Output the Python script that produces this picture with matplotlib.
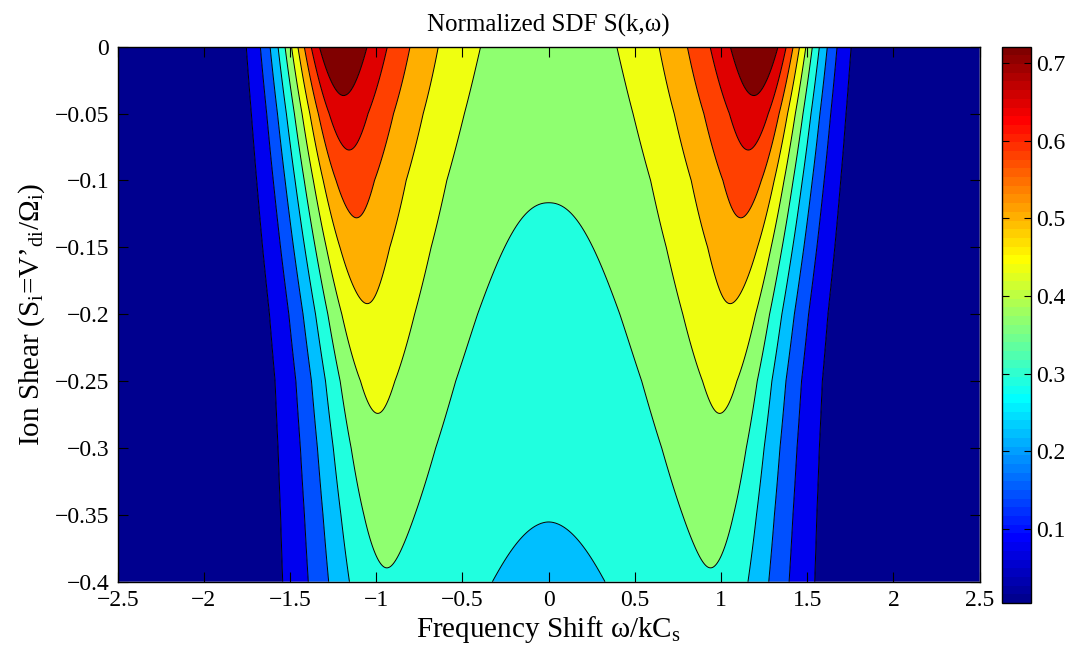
import numpy as np
import matplotlib
matplotlib.use("Agg")
import matplotlib.pyplot as plt
from matplotlib.colors import ListedColormap, Normalize
from matplotlib.cm import ScalarMappable

# ---------------- data ----------------
# anchor rows of ion shear (y axis)
shear_anchor = [0.0, -0.05, -0.10, -0.15, -0.20, -0.25, -0.30, -0.35, -0.40]
# height of the two spectral peaks at each row
peak_value = [0.797, 0.693, 0.613, 0.550, 0.498, 0.452, 0.416, 0.386, 0.357]
# |frequency shift| of the peaks at each row
peak_position = [1.22, 1.18, 1.14, 1.095, 1.045, 1.005, 0.978, 0.955, 0.935]
# value of S at zero frequency shift at each row
center_value = [0.398, 0.383, 0.368, 0.353, 0.338, 0.323, 0.308, 0.293, 0.278]
# width of the steep outer fall-off at each row
outer_width = [0.349, 0.367, 0.384, 0.402, 0.420, 0.437, 0.455, 0.472, 0.490]
# steepness exponent of the inner flank at each row
inner_power = [2.25, 2.2, 2.2, 2.15, 2.15, 2.1, 2.0, 1.9, 1.8]
# rounding of the peak tip
inner_tip = 0.07

# contour levels (colour limits are the first and last)
contour_levels = [0.005, 0.0766, 0.1482, 0.2198, 0.2914, 0.3630,
                  0.4346, 0.5062, 0.5778, 0.6494, 0.7210]

x_ticks = [-2.5, -2, -1.5, -1, -0.5, 0, 0.5, 1, 1.5, 2, 2.5]
x_ticklabels = ["\u22122.5", "\u22122", "\u22121.5", "\u22121", "\u22120.5", "0",
                "0.5", "1", "1.5", "2", "2.5"]
y_ticks = [-0.4, -0.35, -0.3, -0.25, -0.2, -0.15, -0.1, -0.05, 0]
y_ticklabels = ["\u22120.4", "\u22120.35", "\u22120.3", "\u22120.25", "\u22120.2",
                "\u22120.15", "\u22120.1", "\u22120.05", "0"]
cbar_ticks = [0.1, 0.2, 0.3, 0.4, 0.5, 0.6, 0.7]
cbar_ticklabels = ["0.1", "0.2", "0.3", "0.4", "0.5", "0.6", "0.7"]

title_text = "Normalized SDF S(k,\u03c9)"
xlabel_text = "Frequency Shift \u03c9/kC$_\\mathregular{s}$"
ylabel_text = ("Ion Shear (S$_\\mathregular{i}$=V\u2019$_\\mathregular{di}$/"
               "\u03a9$_\\mathregular{i}$)")

# ---------------- field ----------------
x = np.linspace(-2.5, 2.5, 1201)
y = np.linspace(-0.4, 0.0, 481)
X, Y = np.meshgrid(x, y)
s = -Y
s_anchor = -np.array(shear_anchor)
P = np.interp(s, s_anchor, peak_value)
x0 = np.interp(s, s_anchor, peak_position)
C = np.interp(s, s_anchor, center_value)
go = np.interp(s, s_anchor, outer_width)
pw = np.interp(s, s_anchor, inner_power)
u = np.abs(X)

tau = np.clip((x0 - u) / x0, 0, 1)
rho = (np.sqrt(tau**2 + inner_tip**2) - inner_tip) / (np.sqrt(1 + inner_tip**2) - inner_tip)
h = 1 - (1 - rho) ** pw
inner = P - (P - C) * h
outer = P * np.exp(-((u - x0) / go) ** 2)
Z = np.where(u <= x0, inner, outer)

# ---------------- MATLAB jet(64) ----------------
def matlab_jet(m=64):
    n = int(np.ceil(m / 4))
    uu = np.concatenate([np.arange(1, n + 1) / n, np.ones(n - 1), np.arange(n, 0, -1) / n])
    g = int(np.ceil(n / 2)) - (1 if m % 4 == 1 else 0) + np.arange(1, len(uu) + 1)
    r = g + n
    b = g - n
    J = np.zeros((m, 3))
    J[r[r <= m] - 1, 0] = uu[r <= m]
    J[g[g <= m] - 1, 1] = uu[g <= m]
    J[b[b >= 1] - 1, 2] = uu[b >= 1]
    return J

jet = matlab_jet(64)
cmin, cmax = contour_levels[0], contour_levels[-1]
region_colors = []
for v in contour_levels:
    idx = min(int((v - cmin) / (cmax - cmin) * 64), 63)
    region_colors.append(tuple(jet[idx]))

# ---------------- plotting ----------------
plt.rcParams["font.family"] = ["Liberation Serif", "DejaVu Serif"]
plt.rcParams["mathtext.fontset"] = "custom"
plt.rcParams["mathtext.rm"] = "Liberation Serif"
plt.rcParams["mathtext.it"] = "Liberation Serif:italic"

W, H = 1070, 650
fig = plt.figure(figsize=(W / 100, H / 100), dpi=100)
ax = fig.add_axes([117.7 / W, 1 - 581.7 / H, (979.7 - 117.7) / W, (581.7 - 46.7) / H])

bounds = [-1.0] + contour_levels[1:] + [10.0]
ax.contourf(X, Y, Z, levels=bounds, colors=region_colors, antialiased=True)
ax.contour(X, Y, Z, levels=contour_levels[1:], colors="k", linewidths=0.7)

ax.set_xlim(-2.5, 2.5)
ax.set_ylim(-0.4, 0)
ax.set_xticks(x_ticks)
ax.set_xticklabels(x_ticklabels)
ax.set_yticks(y_ticks)
ax.set_yticklabels(y_ticklabels)
ax.tick_params(direction="in", length=7, width=0.8, top=True, right=True,
               labelsize=17, pad=6, colors="k")
for sp in ax.spines.values():
    sp.set_linewidth(1.0)
ax.set_title(title_text, fontsize=18, pad=11)
ax.set_xlabel(xlabel_text, fontsize=21, labelpad=2)
ax.set_ylabel(ylabel_text, fontsize=21, labelpad=6)

cax = fig.add_axes([1001.7 / W, 1 - 603 / H, 29 / W, (603 - 46.7) / H])
sm = ScalarMappable(norm=Normalize(cmin, cmax), cmap=ListedColormap(jet))
cb = fig.colorbar(sm, cax=cax, ticks=cbar_ticks)
cb.set_ticklabels(cbar_ticklabels)
cb.outline.set_linewidth(1.0)
cax.tick_params(direction="in", length=5, width=0.8, left=True, right=True,
                labelsize=17, pad=4)

fig.savefig("out.png", dpi=100)
